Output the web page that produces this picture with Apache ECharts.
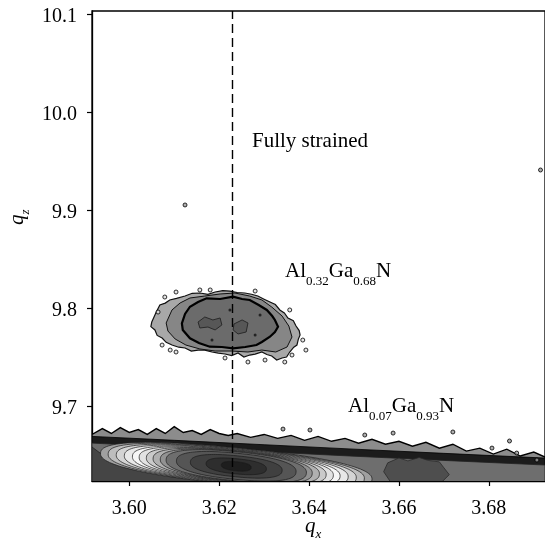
<!DOCTYPE html>
<html><head><meta charset="utf-8">
<script src="https://cdn.jsdelivr.net/npm/echarts@6/dist/echarts.min.js"></script>
<style>html,body{margin:0;padding:0;background:#fff}#c{width:545px;height:544px}</style>
</head><body><div id="c"></div>
<script>
// ---------- axes ----------
const xTicks = [3.60, 3.62, 3.64, 3.66, 3.68];
const yTicks = [9.7, 9.8, 9.9, 10.0, 10.1];
const xRange = [3.5917, 3.6925];
const yRange = [9.6235, 10.103];
const strainedQx = 3.623;

// ---------- lower peak (Al0.07Ga0.93N / buffer), noisy outer contour ----------
const bandEdgeQx = [3.5917,3.594,3.596,3.598,3.600,3.602,3.604,3.606,3.608,3.610,
                    3.612,3.614,3.616,3.618,3.620,3.622,3.624,3.627,3.630,3.633,
                    3.636,3.639,3.642,3.645,3.648,3.651,3.654,3.657,3.660,3.663,
                    3.666,3.669,3.672,3.675,3.678,3.681,3.684,3.687,3.690,3.6925];
const bandEdgeQz = [9.671,9.677,9.672,9.678,9.673,9.676,9.671,9.677,9.672,9.679,
                    9.673,9.675,9.671,9.676,9.672,9.670,9.672,9.668,9.671,9.667,
                    9.670,9.665,9.669,9.664,9.667,9.662,9.666,9.661,9.664,9.659,
                    9.663,9.657,9.661,9.654,9.657,9.651,9.656,9.649,9.653,9.648];
// dark strip contour below the edge
const stripQx = [3.5917, 3.61, 3.63, 3.65, 3.67, 3.6925];
const stripQz = [9.6690, 9.6650, 9.6605, 9.6560, 9.6517, 9.6469];
// next (grey) contour
const greyQx = [3.5917, 3.61, 3.63, 3.65, 3.67, 3.6925];
const greyQz = [9.6622, 9.6580, 9.6533, 9.6488, 9.6445, 9.6398];
// darker lower-left contour
const lowDarkQx = [3.5917, 3.5917, 3.5935, 3.6002, 3.6091, 3.6202, 3.6335];
const lowDarkQz = [9.6200, 9.6582, 9.6520, 9.6429, 9.6357, 9.6296, 9.6200];
// darker patch right of the main peak
const rightDarkQx = [3.6575,3.6600,3.6620,3.6645,3.6665,3.6690,3.6700,3.6712,3.6690,3.6640,3.6585,3.6566];
const rightDarkQz = [9.6420,9.6470,9.6440,9.6475,9.6445,9.6430,9.6370,9.6300,9.6200,9.6200,9.6200,9.6330];
// nested contours of the main peak (centre, half-length along qx, half-width in qz)
const coreQx = 3.6238, coreQz = 9.6385, bandTiltSlope = -0.455;
const ringHalfQx = [0.0302,0.0285,0.0267,0.0249,0.0231,0.0216,0.0200,0.0185,0.0169,0.0156,0.0133,0.0102,0.0067,0.0033];
const ringHalfQz = [0.0187,0.0182,0.0177,0.0172,0.0167,0.0163,0.0159,0.0155,0.0151,0.0147,0.0133,0.0107,0.0077,0.0046];
// isolated noise specks
const speckQx = [3.6587,3.6807,3.6862,3.6907,3.6524,3.6402,3.6342,3.6720,3.6846,3.6124,3.6915];
const speckQz = [9.6724,9.6571,9.6520,9.6449,9.6704,9.6755,9.6765,9.6735,9.6643,9.9051,9.9408];

// ---------- upper peak (Al0.32Ga0.68N) ----------
const blobOuterQx = [3.6050,3.6060,3.6068,3.6080,3.6090,3.6105,3.6124,3.6140,3.6157,3.6175,3.6191,3.6208,3.6224,3.6240,3.6257,3.6272,3.6286,3.6300,3.6313,3.6325,3.6335,3.6345,3.6353,3.6365,3.6371,3.6378,3.6380,
                     3.6376,3.6373,3.6366,3.6357,3.6350,3.6340,3.6328,3.6317,3.6306,3.6295,3.6280,3.6268,3.6255,3.6242,3.6228,3.6213,3.6198,3.6184,3.6168,3.6153,3.6138,3.6124,3.6110,3.6095,3.6082,3.6073,3.6062,3.6057,3.6048];
const blobOuterQz = [9.7857,9.7960,9.8031,9.8050,9.8082,9.8098,9.8122,9.8150,9.8153,9.8140,9.8163,9.8178,9.8173,9.8158,9.8153,9.8140,9.8122,9.8090,9.8061,9.8035,9.7980,9.7950,9.7898,9.7870,9.7816,9.7770,9.7724,
                     9.7680,9.7622,9.7600,9.7551,9.7500,9.7490,9.7470,9.7510,9.7525,9.7551,9.7530,9.7520,9.7500,9.7541,9.7515,9.7531,9.7540,9.7551,9.7570,9.7571,9.7560,9.7592,9.7600,9.7622,9.7650,9.7694,9.7720,9.7776,9.7810];
const blobMidQx = [3.6082,3.6095,3.6113,3.6135,3.6168,3.6202,3.6235,3.6268,3.6295,3.6317,3.6340,3.6355,3.6362,3.6351,
                   3.6326,3.6295,3.6264,3.6228,3.6191,3.6157,3.6126,3.6102,3.6086];
const blobMidQz = [9.7847,9.7980,9.8051,9.8102,9.8122,9.8143,9.8153,9.8122,9.8082,9.8010,9.7918,9.7816,9.7704,9.7602,
                   9.7551,9.7571,9.7551,9.7561,9.7561,9.7582,9.7622,9.7684,9.7765];
const blobCoreQx = [3.6117,3.6124,3.6135,3.6153,3.6172,3.6202,3.6231,3.6251,3.6268,3.6288,3.6306,3.6318,3.6324,3.6331,
                    3.6324,3.6313,3.6295,3.6283,3.6258,3.6231,3.6206,3.6179,3.6155,3.6135,3.6119];
const blobCoreQz = [9.7844,9.7939,9.8013,9.8061,9.8099,9.8092,9.8115,9.8092,9.8082,9.8031,9.7980,9.7918,9.7878,9.7809,
                    9.7755,9.7707,9.7653,9.7622,9.7602,9.7589,9.7602,9.7605,9.7643,9.7691,9.7776];
const patchAQx = [3.6153,3.6168,3.6186,3.6202,3.6206,3.6191,3.6175,3.6157];
const patchAQz = [9.7857,9.7908,9.7878,9.7898,9.7827,9.7776,9.7806,9.7796];
const patchBQx = [3.6233,3.6251,3.6264,3.6260,3.6242,3.6231];
const patchBQz = [9.7837,9.7878,9.7847,9.7755,9.7735,9.7776];
const blobSpeckQx = [3.6079,3.6104,3.6357,3.6386,3.6393,3.6104,3.6264,3.6302,3.6157,3.6064,3.6073,3.6091,3.6362,3.6346,3.6213,3.6180,3.6280];
const blobSpeckQz = [9.8112,9.8163,9.7980,9.7673,9.7571,9.7551,9.7449,9.7469,9.8184,9.7959,9.7622,9.7571,9.7520,9.7449,9.7490,9.8184,9.8173];
const blobDotQx = [3.6224,3.6280,3.6184,3.6291];
const blobDotQz = [9.7980,9.7724,9.7673,9.7929];

// ---------- styles ----------
const ringFills = ['#a0a0a0','#bdbdbd','#d4d4d4','#e8e8e8','#f6f6f6','#e2e2e2','#cacaca','#b0b0b0','#929292','#6e6e6e','#555555','#404040','#2e2e2e','#1e1e1e'];
const SERIF = '"Liberation Serif","Times New Roman",serif';

function zipPts(xs, zs) { return xs.map((x, i) => [x, zs[i]]); }
function closeBottom(xs, zs) {
  const pts = zipPts(xs, zs);
  pts.push([xs[xs.length - 1], 9.62]);
  pts.push([xs[0], 9.62]);
  return pts;
}
function polySeries(pts, style) {
  return {
    type: 'custom', coordinateSystem: 'cartesian2d', clip: true, silent: true,
    data: pts, encode: { x: 0, y: 1 },
    renderItem(params, api) {
      if (params.dataIndex !== 0) return null;
      return { type: 'polygon', shape: { points: pts.map(p => api.coord(p)) }, style: Object.assign({}, style) };
    }
  };
}
const ringData = ringHalfQx.map((hx, i) => [coreQx, coreQz, hx, ringHalfQz[i], i]);
const ringSeries = {
  type: 'custom', coordinateSystem: 'cartesian2d', clip: true, silent: true,
  data: ringData, encode: { x: 0, y: 1 },
  renderItem(params, api) {
    const cx = api.value(0), cz = api.value(1), hx = api.value(2), hz = api.value(3), lv = api.value(4);
    const c = api.coord([cx, cz]);
    const p = api.coord([cx + hx, cz + bandTiltSlope * hx]);
    const rx = Math.hypot(p[0] - c[0], p[1] - c[1]);
    const ang = Math.atan2(p[1] - c[1], p[0] - c[0]);
    const ry = Math.abs(api.size([0, hz])[1]);
    const pts = [];
    const n = 120, e = 2 / 2.4;
    for (let k = 0; k < n; k++) {
      const t = 2 * Math.PI * k / n;
      const ct = Math.cos(t), st = Math.sin(t);
      const u = rx * Math.sign(ct) * Math.pow(Math.abs(ct), e);
      const v = ry * Math.sign(st) * Math.pow(Math.abs(st), e);
      pts.push([c[0] + u * Math.cos(ang) - v * Math.sin(ang), c[1] + u * Math.sin(ang) + v * Math.cos(ang)]);
    }
    return { type: 'polygon', shape: { points: pts }, style: { fill: ringFills[lv], stroke: '#1a1a1a', lineWidth: 0.7 } };
  }
};

const series = [
  polySeries(closeBottom(bandEdgeQx, bandEdgeQz), { fill: '#8c8c8c', stroke: '#000', lineWidth: 1.4 }),
  polySeries(closeBottom(stripQx, stripQz), { fill: '#1c1c1c', stroke: '#000', lineWidth: 0.8 }),
  polySeries(closeBottom(greyQx, greyQz), { fill: '#6e6e6e', stroke: '#222', lineWidth: 0.8 }),
  polySeries(zipPts(lowDarkQx, lowDarkQz), { fill: '#454545', stroke: '#222', lineWidth: 0.8 }),
  polySeries(zipPts(rightDarkQx, rightDarkQz), { fill: '#4e4e4e', stroke: '#2a2a2a', lineWidth: 0.8 }),
  ringSeries,
  {
    type: 'scatter', silent: true, data: zipPts(speckQx, speckQz), symbol: 'circle', symbolSize: 4,
    itemStyle: { color: '#9a9a9a', borderColor: '#000', borderWidth: 1 }
  },
  polySeries(zipPts(blobOuterQx, blobOuterQz), { fill: '#a8a8a8', stroke: '#111', lineWidth: 1.2 }),
  polySeries(zipPts(blobMidQx, blobMidQz), { fill: '#868686', stroke: '#111', lineWidth: 1 }),
  polySeries(zipPts(blobCoreQx, blobCoreQz), { fill: '#6b6b6b', stroke: '#000', lineWidth: 2.2 }),
  polySeries(zipPts(patchAQx, patchAQz), { fill: '#575757', stroke: '#2a2a2a', lineWidth: 1 }),
  polySeries(zipPts(patchBQx, patchBQz), { fill: '#575757', stroke: '#2a2a2a', lineWidth: 1 }),
  {
    type: 'scatter', silent: true, data: zipPts(blobSpeckQx, blobSpeckQz), symbol: 'circle', symbolSize: 4,
    itemStyle: { color: '#ddd', borderColor: '#000', borderWidth: 1 }
  },
  {
    type: 'scatter', silent: true, data: zipPts(blobDotQx, blobDotQz), symbol: 'circle', symbolSize: 3,
    itemStyle: { color: '#111' }
  },
  {
    type: 'line', data: [], silent: true,
    markLine: {
      silent: true, symbol: 'none', animation: false, label: { show: false }, precision: 4,
      lineStyle: { color: '#000', width: 1.4, type: [9, 5] },
      data: [{ xAxis: strainedQx }]
    }
  }
];

const chart = echarts.init(document.getElementById('c'), null, { renderer: 'canvas' });
chart.setOption({
  animation: false,
  backgroundColor: '#fff',
  grid: { left: 92, right: 0, top: 11, bottom: 63, show: true, borderColor: '#000', borderWidth: 1.3, backgroundColor: 'transparent' },
  xAxis: {
    type: 'value', min: xRange[0], max: xRange[1],
    axisLine: { show: true, lineStyle: { color: '#000', width: 1.3 } },
    axisTick: { show: true, inside: false, length: 5, customValues: xTicks, lineStyle: { color: '#000', width: 1.2 } },
    axisLabel: { customValues: xTicks, formatter: v => v.toFixed(2), fontFamily: SERIF, fontSize: 20, color: '#000', margin: 18 },
    splitLine: { show: false }
  },
  yAxis: {
    type: 'value', min: yRange[0], max: yRange[1],
    axisLine: { show: true, lineStyle: { color: '#000', width: 1.3 } },
    axisTick: { show: true, inside: false, length: 5, customValues: yTicks, lineStyle: { color: '#000', width: 1.2 } },
    axisLabel: { customValues: yTicks, formatter: v => v.toFixed(1), fontFamily: SERIF, fontSize: 20, color: '#000', margin: 15, verticalAlign: 'top', lineHeight: 6 },
    splitLine: { show: false }
  },
  graphic: [
    { type: 'text', x: 252, y: 141, z: 100,
      style: { text: 'Fully strained', font: '21px ' + SERIF, fill: '#000', textAlign: 'left', textVerticalAlign: 'middle', align: 'left', verticalAlign: 'middle' } },
    { type: 'text', x: 285, y: 261, z: 100,
      style: { text: '{m|Al}{s|0.32}{m|Ga}{s|0.68}{m|N}', fill: '#000', align: 'left', verticalAlign: 'top', textAlign: 'left', textVerticalAlign: 'top',
        rich: { m: { fontSize: 21, fontFamily: SERIF, lineHeight: 22, verticalAlign: 'top', fill: '#000' },
                s: { fontSize: 13, fontFamily: SERIF, lineHeight: 13, padding: [14, 0, 0, 0], verticalAlign: 'top', fill: '#000' } } } },
    { type: 'text', x: 348, y: 396, z: 100,
      style: { text: '{m|Al}{s|0.07}{m|Ga}{s|0.93}{m|N}', fill: '#000', align: 'left', verticalAlign: 'top', textAlign: 'left', textVerticalAlign: 'top',
        rich: { m: { fontSize: 21, fontFamily: SERIF, lineHeight: 22, verticalAlign: 'top', fill: '#000' },
                s: { fontSize: 13, fontFamily: SERIF, lineHeight: 13, padding: [14, 0, 0, 0], verticalAlign: 'top', fill: '#000' } } } },
    { type: 'text', x: 305, y: 516, z: 100,
      style: { text: '{q|q}{s|x}', fill: '#000', align: 'left', verticalAlign: 'top', textAlign: 'left', textVerticalAlign: 'top',
        rich: { q: { fontSize: 21, fontStyle: 'italic', fontFamily: SERIF, lineHeight: 22, verticalAlign: 'top', fill: '#000' },
                s: { fontSize: 13, fontStyle: 'italic', fontFamily: SERIF, lineHeight: 13, padding: [12, 0, 0, 0], verticalAlign: 'top', fill: '#000' } } } },
    { type: 'text', x: 7, y: 225, rotation: Math.PI / 2, z: 100,
      style: { text: '{q|q}{s|z}', fill: '#000', align: 'left', verticalAlign: 'top', textAlign: 'left', textVerticalAlign: 'top',
        rich: { q: { fontSize: 21, fontStyle: 'italic', fontFamily: SERIF, lineHeight: 22, verticalAlign: 'top', fill: '#000' },
                s: { fontSize: 13, fontStyle: 'italic', fontFamily: SERIF, lineHeight: 13, padding: [12, 0, 0, 0], verticalAlign: 'top', fill: '#000' } } } }
  ],
  series
});
</script>
</body></html>
